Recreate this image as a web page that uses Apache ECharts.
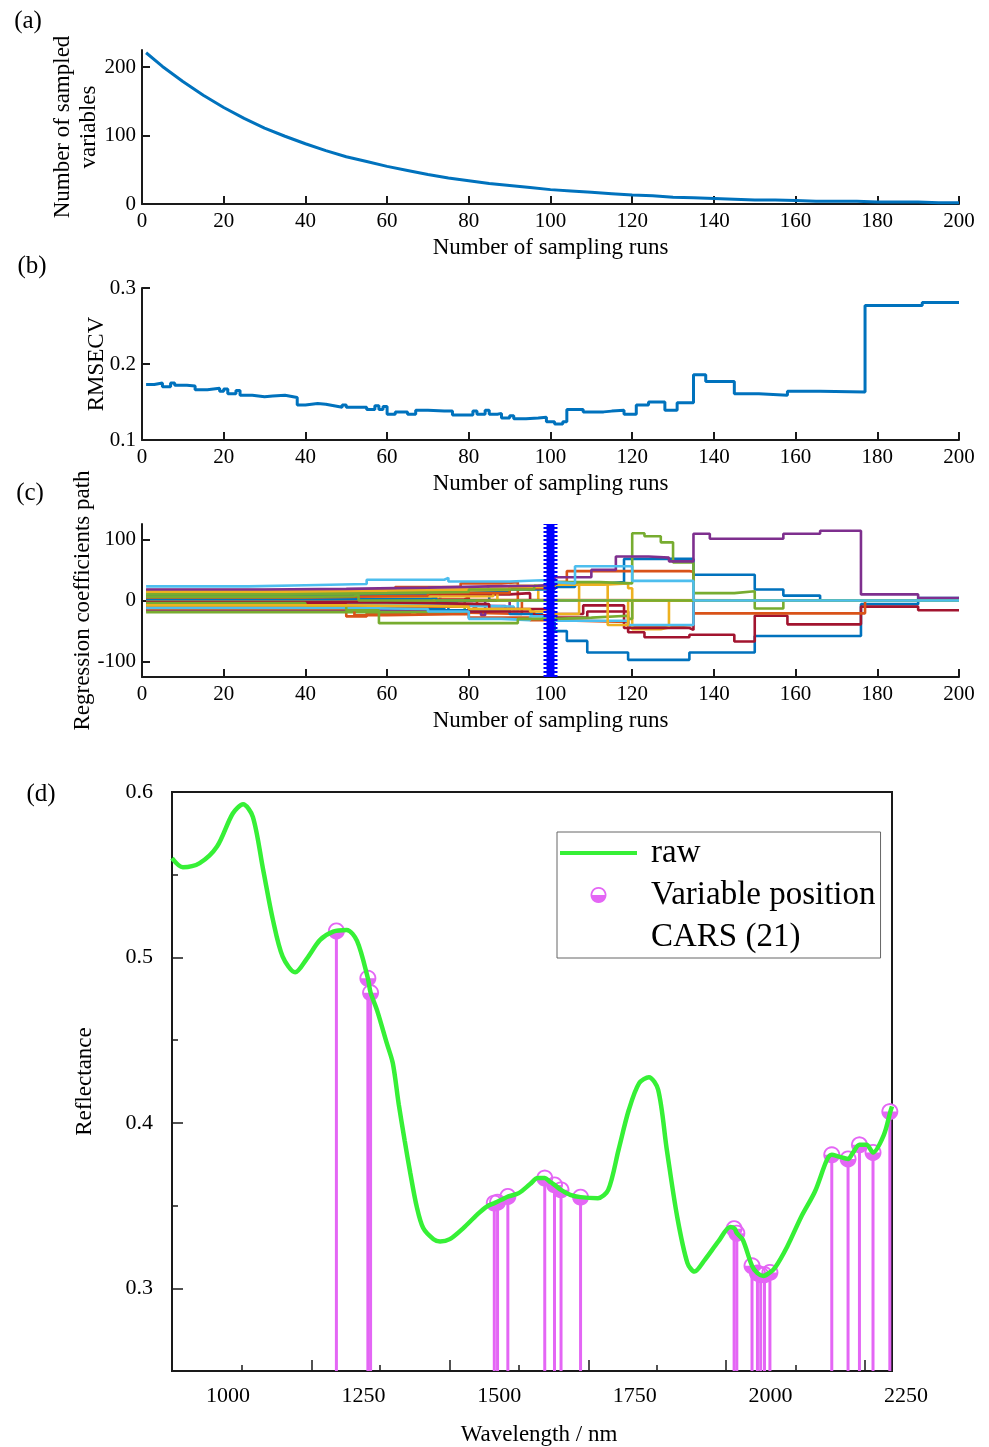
<!DOCTYPE html>
<html>
<head>
<meta charset="utf-8">
<script src="https://cdn.jsdelivr.net/npm/echarts@6/dist/echarts.min.js"></script>
<style>html,body{margin:0;padding:0;background:#fff}#chart{width:989px;height:1447px}</style>
</head>
<body>
<div id="chart"></div>
<script>
// ---------- (a) number of sampled variables ----------
const runsA = [1,5,10,15,20,25,30,35,40,45,50,55,60,65,70,75,80,85,90,95,100,105,110,115,120,125,130,135,140,145,150,155,160,165,170,175,180,185,190,195,200];
const sampledVars = [221,201,179,159,141,125,111,99,88,78,69,62,55,49,43,38,34,30,27,24,21,19,17,15,13,12,10,9,8,7,6,6,5,4,4,4,3,3,3,2,2];

// ---------- (b) RMSECV (value from this run onward) ----------
const runsB = [1,3,5,7,8,11,13,16,19,20,21,23,24,27,30,32,35,37,38,40,43,45,47,49,50,53,55,57,58,59,60,62,65,67,70,74,76,79,81,82,84,85,87,88,90,91,94,97,99,101,103,104,108,113,115,118,121,124,128,131,135,138,145,151,158,166,177,191,200];
const rmsecv = [0.173,0.175,0.170,0.175,0.172,0.171,0.166,0.168,0.164,0.167,0.161,0.165,0.159,0.157,0.158,0.159,0.157,0.156,0.146,0.148,0.147,0.145,0.143,0.146,0.143,0.143,0.140,0.145,0.140,0.144,0.134,0.137,0.134,0.139,0.138,0.138,0.133,0.133,0.138,0.134,0.139,0.134,0.135,0.129,0.132,0.128,0.129,0.130,0.124,0.121,0.124,0.140,0.137,0.138,0.139,0.134,0.146,0.150,0.139,0.149,0.186,0.177,0.161,0.159,0.164,0.163,0.277,0.281,0.281];

// ---------- (c) regression coefficient paths: [run, coefficient] change points ----------
const coefPaths = [
  [[1,14],[30,15],[60,18],[84,20],[85,0]],
  [[1,17],[40,18],[62,22],[78,28],[88,30],[92,0]],
  [[1,15],[40,17],[70,20],[90,24],[97,0]],
  [[1,3],[40,4],[56,6],[57,0]],
  [[1,9],[45,11],[64,14],[65,0]],
  [[1,-1],[50,-3],[76,-5],[77,0]],
  [[1,-9],[30,-8],[50,-10],[70,-13],[71,0]],
  [[1,-7],[40,-8],[68,-12],[69,0]],
  [[1,-17],[40,-18],[50,-26],[55,-20],[80,-22],[93,0]],
  [[1,-15],[40,-16],[66,-20],[67,0]],
  [[1,-5],[40,-6],[62,-9],[63,0]],
  [[1,11],[40,12],[60,14],[73,0]],
  [[1,1],[40,2],[79,5],[80,0]],
  [[1,-11],[40,-12],[74,-16],[75,0]],
  [[1,7],[40,8],[66,12],[67,0]],
  [[1,0],[40,1],[47,0]],
  [[1,-2],[40,-3],[59,-5],[60,0]],
  [[1,4],[40,6],[70,10],[90,12],[95,0]],
  [[1,-16],[40,-15],[60,-18],[83,-24],[84,0]],
  [[1,-19],[40,-19],[78,-22],[79,0]],
  [[1,2],[45,3],[71,6],[72,0]],
  [[1,-4],[45,-6],[81,-10],[82,0]],
  [[1,-8],[30,-7],[45,-9],[89,-15],[90,0]],
  [[1,6],[40,7],[86,14],[87,0]],
  [[1,-6],[40,-7],[65,-10],[91,-18],[92,0]],
  [[1,8],[40,10],[70,14],[90,18],[101,22],[106,28],[114,30],[118,68],[135,42],[150,18],[157,8],[166,0]],
  [[1,-10],[40,-12],[70,-16],[90,-22],[98,-26],[101,-50],[104,-66],[109,-85],[119,-97],[134,-85],[150,-58],[176,-6],[190,4]],
  [[1,-6],[50,-10],[80,-18],[96,-24],[101,-28],[109,-18],[119,-52],[123,-60],[134,-56],[145,-67],[150,-25],[158,-39],[176,-10],[190,-16]],
  [[1,5],[40,8],[70,12],[90,20],[101,30],[104,48],[134,47],[135,-21],[176,-21],[177,0]],
  [[1,-14],[50,-16],[52,-24],[60,-22],[80,-28],[95,-32],[101,-35],[119,-42],[131,-40],[135,0]],
  [[1,12],[40,15],[70,18],[90,22],[101,26],[113,28],[119,20],[120,-47],[127,-44],[129,0]],
  [[1,-3],[60,-6],[85,-14],[100,-22],[108,-8],[118,-45],[134,-48],[135,0]],
  [[1,-12],[50,-14],[70,-18],[80,-30],[88,-32],[95,-26],[101,-33],[119,-40],[134,-40],[135,0]],
  [[1,-4],[40,-8],[50,-16],[58,-37],[87,-37],[92,-30],[101,-28],[110,-25],[119,-30],[120,0]],
  [[1,-8],[50,-10],[80,-14],[95,-18],[101,-22],[107,28],[113,28],[114,-40],[119,0]],
  [[1,10],[35,12],[60,14],[80,18],[96,24],[101,30],[112,28],[120,110],[123,105],[127,95],[130,62],[135,12],[145,15],[150,-13],[157,0]],
  [[1,18],[30,19],[50,21],[70,23],[85,24],[97,26],[101,38],[110,50],[116,72],[124,70],[129,64],[135,109],[139,101],[157,109],[166,114],[176,10],[190,4]],
  [[1,6],[40,7],[52,10],[53,0]],
  [[1,23],[26,25],[40,27],[55,34],[74,37],[75,31],[90,33],[98,30],[101,28],[106,56],[119,56],[120,32],[134,32],[135,0]]
];
// colour slot of each path (MATLAB default order)
const coefColorSlots = [0,1,2,3,4,5,6,0,1,2,3,5,6,0,3,1,2,6,3,4,0,1,3,2,5,0,0,6,1,1,2,6,5,4,2,4,3,4,5];
const optimalRun = 100;
const optimalRange = [-125, 125];

// ---------- (d) spectrum and selected variables ----------
const rawWl = [897,917,948,980,1009,1028,1046,1065,1083,1101,1124,1146,1170,1194,1219,1238,1258,1263,1275,1293,1304,1315,1326,1336,1348,1360,1379,1391,1409,1434,1459,1477,1491,1504,1517,1536,1557,1571,1584,1593,1602,1614,1631,1650,1682,1701,1720,1739,1758,1776,1793,1809,1828,1847,1860,1879,1904,1926,1934,1938,1949,1966,1976,1987,1999,2008,2031,2057,2082,2104,2113,2126,2143,2152,2164,2177,2189,2209,2221,2224];
const rawRefl = [0.560,0.5545,0.557,0.567,0.587,0.5926,0.585,0.553,0.5227,0.5005,0.491,0.4995,0.5106,0.5156,0.5166,0.510,0.4874,0.4787,0.468,0.448,0.436,0.411,0.389,0.370,0.3494,0.3364,0.3297,0.3283,0.3297,0.3364,0.3444,0.3494,0.3515,0.3535,0.3555,0.3575,0.363,0.3666,0.3666,0.3645,0.3625,0.3595,0.3565,0.3551,0.3545,0.3595,0.3837,0.4079,0.424,0.4276,0.42,0.3837,0.3434,0.3152,0.3101,0.3172,0.3283,0.337,0.336,0.3333,0.3293,0.3136,0.3092,0.3075,0.3096,0.3122,0.3253,0.3434,0.3585,0.3776,0.3807,0.3796,0.3782,0.382,0.3867,0.3867,0.3821,0.3927,0.4068,0.410];
const varWl = [1200,1258,1263,1491,1497,1516,1584,1602,1614,1650,1933,1938,1966,1976,1982,1989,1999,2113,2143,2164,2189,2220];
const varRefl = [0.516,0.4874,0.4787,0.3515,0.352,0.3555,0.3666,0.3625,0.3595,0.3551,0.336,0.3333,0.3136,0.3092,0.3082,0.3082,0.3096,0.3807,0.3782,0.3867,0.3821,0.4068];
const wlLabels = [1000,1250,1500,1750,2000,2250];
const wlMajorTicks = [1154,1409,1666,1918,2173];
const wlMinorTicks = [1025,1280,1537,1790,2046];
const reflLabels = [0.3,0.4,0.5,0.6];
const reflMinorTicks = [0.35,0.45,0.55];
const coefLabels = [-100,0,100];
const countLabels = [0,100,200];

// ---------- styling ----------
const FONT = 'Liberation Serif';
const PALETTE = ['#0072BD','#D95319','#EDB120','#7E2F8E','#77AC30','#4DBEEE','#A2142F'];
const AX = '#1a1a1a';
const MAGENTA = '#E466F5';
const GREEN = '#36F036';
// half-filled circle marker: filled lower half + thin upper half ring (polygons)
const HALF_MARK = 'path://M10,0L9.66,2.59L8.66,5L7.07,7.07L5,8.66L2.59,9.66L0,10L-2.59,9.66L-5,8.66L-7.07,7.07L-8.66,5L-9.66,2.59L-10,0Z'
  + 'M-10,0L-9.66,-2.59L-8.66,-5L-7.07,-7.07L-5,-8.66L-2.59,-9.66L0,-10L2.59,-9.66L5,-8.66L7.07,-7.07L8.66,-5L9.66,-2.59L10,0'
  + 'L7.8,0L7.53,-2.02L6.75,-3.9L5.52,-5.52L3.9,-6.75L2.02,-7.53L0,-7.8L-2.02,-7.53L-3.9,-6.75L-5.52,-5.52L-6.75,-3.9L-7.53,-2.02L-7.8,0Z';
const LINE_ICON = 'path://M0,0L77,0L77,4L0,4Z';
const txt = (size) => ({fontFamily: FONT, fontSize: size, color: '#000'});

function runAxis(gi) {
  return {
    type: 'value', gridIndex: gi, min: 0, max: 200, interval: 20,
    axisLine: {show: true, onZero: false, lineStyle: {color: AX, width: 2}},
    axisTick: {show: true, inside: true, length: 8, lineStyle: {color: AX, width: 2}},
    axisLabel: Object.assign({margin: 7, formatter: v => String(v)}, txt(21)),
    splitLine: {show: false},
    name: 'Number of sampling runs', nameLocation: 'middle', nameGap: 32, nameMoveOverlap: false,
    nameTextStyle: txt(23)
  };
}
function leftAxis(gi, extra) {
  return Object.assign({
    type: 'value', gridIndex: gi, position: 'left',
    axisLine: {show: true, onZero: false, lineStyle: {color: AX, width: 2}},
    axisTick: {show: true, inside: true, length: 8, lineStyle: {color: AX, width: 2}},
    axisLabel: Object.assign({margin: 6}, txt(21)),
    splitLine: {show: false},
    nameLocation: 'middle', nameMoveOverlap: false,
    nameTextStyle: Object.assign({lineHeight: 26}, txt(23))
  }, extra);
}

const coefSeries = coefPaths.map((p, i) => ({
  type: 'line', xAxisIndex: 2, yAxisIndex: 2, step: 'end', symbol: 'none', silent: true,
  lineStyle: {width: 2.6, color: PALETTE[coefColorSlots[i]]},
  data: p.concat([[200, p[p.length - 1][1]]])
}));

const optimalLine = [[optimalRun, optimalRange[0]], [optimalRun, optimalRange[1]]];
const varPoints = varWl.map((w, i) => [w, varRefl[i]]);

const option = {
  animation: false,
  grid: [
    {left: 142, top: 50, width: 817, height: 154},
    {left: 142, top: 288, width: 817, height: 152},
    {left: 142, top: 524, width: 817, height: 153},
    {left: 172, top: 792, width: 720, height: 579, show: true, borderColor: AX, borderWidth: 2, backgroundColor: 'transparent'},
    {left: 172, top: 792, width: 734, height: 579}
  ],
  xAxis: [
    runAxis(0), runAxis(1), runAxis(2),
    {type: 'value', gridIndex: 3, position: 'bottom', min: 897, max: 2224,
     axisLine: {show: true, onZero: false, lineStyle: {color: AX, width: 2}},
     axisTick: {show: true, inside: true, length: 11, customValues: wlMajorTicks, lineStyle: {color: AX, width: 1.5}},
     axisLabel: {show: false}, splitLine: {show: false}},
    {type: 'value', gridIndex: 3, position: 'bottom', min: 897, max: 2224,
     axisLine: {show: false, onZero: false},
     axisTick: {show: true, inside: true, length: 6, customValues: wlMinorTicks, lineStyle: {color: AX, width: 1.5}},
     axisLabel: {show: false}, splitLine: {show: false}},
    {type: 'value', gridIndex: 4, position: 'bottom', min: 897, max: 2250,
     axisLine: {show: false, onZero: false}, axisTick: {show: false},
     axisLabel: Object.assign({margin: 14, customValues: wlLabels, formatter: v => String(v)}, txt(22)),
     splitLine: {show: false},
     name: 'Wavelength / nm', nameLocation: 'middle', nameGap: 52, nameMoveOverlap: false, nameTextStyle: txt(23)}
  ],
  yAxis: [
    leftAxis(0, {min: 0, max: 225,
      axisLabel: Object.assign({margin: 6, customValues: countLabels, formatter: v => String(v)}, txt(21)),
      axisTick: {show: true, inside: true, length: 8, customValues: countLabels, lineStyle: {color: AX, width: 2}},
      name: 'Number of sampled\nvariables', nameGap: 40}),
    leftAxis(1, {min: 0.1, max: 0.3, interval: 0.1, name: 'RMSECV', nameGap: 32}),
    leftAxis(2, {min: -125, max: 125,
      axisLabel: Object.assign({margin: 6, customValues: coefLabels, formatter: v => String(v)}, txt(21)),
      axisTick: {show: true, inside: true, length: 8, customValues: coefLabels, lineStyle: {color: AX, width: 2}},
      name: 'Regression coefficients path', nameGap: 46}),
    {type: 'value', gridIndex: 3, position: 'left', min: 0.25, max: 0.6,
     axisLine: {show: true, onZero: false, lineStyle: {color: AX, width: 2}},
     axisTick: {show: true, inside: true, length: 11, customValues: reflLabels, lineStyle: {color: AX, width: 1.5}},
     axisLabel: Object.assign({margin: 19, customValues: reflLabels, formatter: v => v.toFixed(1)}, txt(22)),
     splitLine: {show: false},
     name: 'Reflectance', nameLocation: 'middle', nameGap: 76, nameMoveOverlap: false, nameTextStyle: txt(23)},
    {type: 'value', gridIndex: 3, position: 'left', min: 0.25, max: 0.6,
     axisLine: {show: false, onZero: false},
     axisTick: {show: true, inside: true, length: 6, customValues: reflMinorTicks, lineStyle: {color: AX, width: 1.5}},
     axisLabel: {show: false}, splitLine: {show: false}},
    {type: 'value', gridIndex: 4, show: false, min: 0, max: 1}
  ],
  legend: {
    orient: 'vertical', left: 557, top: 832, itemWidth: 77, itemHeight: 16, itemGap: 0,
    padding: [0, 5, 0, 3], borderColor: '#666', borderWidth: 1, selectedMode: false,
    textStyle: {fontFamily: FONT, fontSize: 33, color: '#000', lineHeight: 42, padding: [0, 0, 0, 9]},
    data: [{name: 'raw', icon: LINE_ICON}, {name: 'Variable position', icon: HALF_MARK}, {name: 'CARS (21)', icon: 'none'}]
  },
  graphic: [
    {type: 'text', x: 28, y: 21, style: {text: '(a)', fontFamily: FONT, fontSize: 25, fill: '#000', align: 'center', verticalAlign: 'middle'}},
    {type: 'text', x: 32, y: 266, style: {text: '(b)', fontFamily: FONT, fontSize: 25, fill: '#000', align: 'center', verticalAlign: 'middle'}},
    {type: 'text', x: 30, y: 493, style: {text: '(c)', fontFamily: FONT, fontSize: 25, fill: '#000', align: 'center', verticalAlign: 'middle'}},
    {type: 'text', x: 41, y: 794, style: {text: '(d)', fontFamily: FONT, fontSize: 25, fill: '#000', align: 'center', verticalAlign: 'middle'}}
  ],
  series: [
    {type: 'line', xAxisIndex: 0, yAxisIndex: 0, symbol: 'none', silent: true,
     lineStyle: {width: 3, color: '#0072BD'},
     data: runsA.map((r, i) => [r, sampledVars[i]])},
    {type: 'line', xAxisIndex: 1, yAxisIndex: 1, symbol: 'none', silent: true, step: 'end',
     lineStyle: {width: 3, color: '#0072BD'},
     data: runsB.map((r, i) => [r, rmsecv[i]])}
  ].concat(coefSeries).concat([
    {type: 'line', xAxisIndex: 2, yAxisIndex: 2, symbol: 'none', silent: true,
     lineStyle: {width: 8, color: '#0000FF'}, data: optimalLine},
    {type: 'line', xAxisIndex: 2, yAxisIndex: 2, symbol: 'none', silent: true,
     lineStyle: {width: 14, color: '#0000FF', type: [2, 2], cap: 'butt'}, data: optimalLine},
    {type: 'bar', xAxisIndex: 3, yAxisIndex: 3, barWidth: 3, silent: true,
     itemStyle: {color: MAGENTA}, data: varPoints},
    {name: 'raw', type: 'line', xAxisIndex: 3, yAxisIndex: 3, symbol: 'none', smooth: 0.3, silent: true,
     lineStyle: {width: 4.5, color: GREEN}, itemStyle: {color: GREEN},
     data: rawWl.map((w, i) => [w, rawRefl[i]])},
    {type: 'scatter', xAxisIndex: 3, yAxisIndex: 3, symbol: 'circle', symbolSize: 15, silent: true,
     itemStyle: {color: '#ffffff', opacity: 1}, data: varPoints},
    {name: 'Variable position', type: 'scatter', xAxisIndex: 3, yAxisIndex: 3, symbol: HALF_MARK, symbolSize: 17,
     symbolKeepAspect: true, silent: true,
     itemStyle: {color: MAGENTA, opacity: 1}, data: varPoints},
    {name: 'CARS (21)', type: 'line', xAxisIndex: 3, yAxisIndex: 3, symbol: 'none', data: []}
  ])
};

const chart = echarts.init(document.getElementById('chart'), null, {renderer: 'canvas'});
chart.setOption(option);
</script>
</body>
</html>
